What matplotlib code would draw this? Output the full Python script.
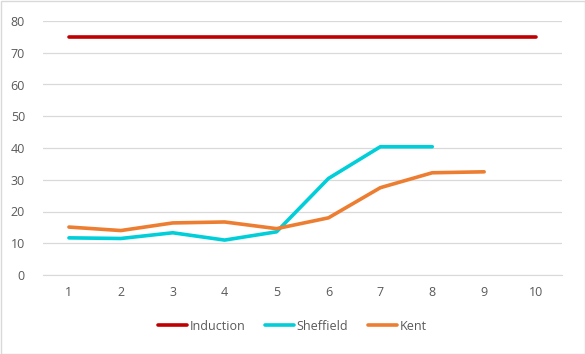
import matplotlib
matplotlib.use("Agg")
import matplotlib.pyplot as plt

weeks = [1, 2, 3, 4, 5, 6, 7, 8, 9, 10]
induction = [75, 75, 75, 75, 75, 75, 75, 75, 75, 75]
sheffield_x = [1, 2, 3, 4, 5, 6, 7, 8]
sheffield = [11.7, 11.5, 13.3, 11.0, 13.6, 30.4, 40.4, 40.4]
kent_x = [1, 2, 3, 4, 5, 6, 7, 8, 9]
kent = [15.1, 14.0, 16.4, 16.7, 14.6, 18.0, 27.5, 32.2, 32.5]
yticks = [0, 10, 20, 30, 40, 50, 60, 70, 80]

plt.rcParams['font.family'] = ['Open Sans', 'DejaVu Sans']
fig = plt.figure(figsize=(5.85, 3.54), dpi=100)
ax = fig.add_axes([43/585, 1-275/354, (562-43)/585, (275-21)/354])

tc = '#595959'
ax.plot(weeks, induction, color='#C00000', lw=2.6, label='Induction', solid_capstyle='round', zorder=3)
ax.plot(sheffield_x, sheffield, color='#00CED9', lw=2.6, label='Sheffield', solid_capstyle='round', zorder=3)
ax.plot(kent_x, kent, color='#ED7D31', lw=2.6, label='Kent', solid_capstyle='round', zorder=3)

ax.set_xlim(0.5, 10.5)
ax.set_ylim(0, 80)
ax.set_yticks(yticks)
ax.set_xticks(weeks)
ax.grid(axis='y', color='#D9D9D9', lw=0.9)
ax.set_axisbelow(True)
for s in ['top', 'right', 'left']:
    ax.spines[s].set_visible(False)
ax.spines['bottom'].set_color('#D9D9D9')
ax.tick_params(axis='both', length=0, labelsize=9, labelcolor=tc)
ax.tick_params(axis='y', pad=13)
ax.tick_params(axis='x', pad=8)

leg = fig.legend(loc='center', bbox_to_anchor=(0.5, 1-326/354), ncol=3, frameon=False,
                 fontsize=9, handlelength=2.3, columnspacing=1.6, handletextpad=0.2)
for t in leg.get_texts():
    t.set_color(tc)

fig.patches.append(plt.Rectangle((0.5/585, 0.5/354), 1-1/585, 1-1/354, transform=fig.transFigure,
                                 fill=False, edgecolor='#D9D9D9', lw=1))
fig.savefig('out.png', dpi=100, facecolor='white')
